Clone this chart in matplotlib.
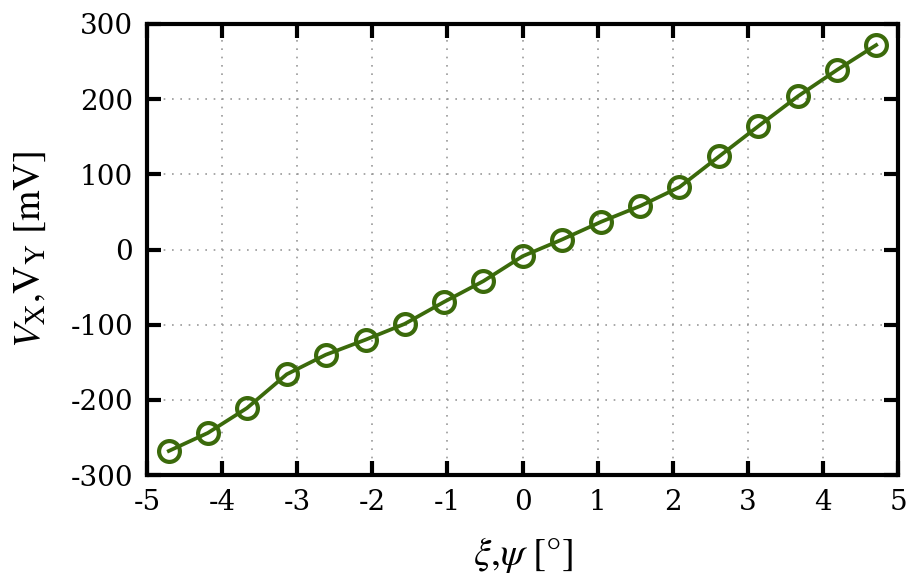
import matplotlib
matplotlib.use("Agg")
import matplotlib.pyplot as plt

# angle [deg] and measured voltage [mV]
angle = [-4.71, -4.19, -3.67, -3.14, -2.62, -2.09, -1.57, -1.05, -0.52, 0.0,
         0.52, 1.05, 1.57, 2.09, 2.62, 3.14, 3.67, 4.19, 4.71]
voltage = [-268, -244, -211, -166, -140, -120, -99, -70, -42, -9,
           13, 37, 58, 83, 124, 164, 204, 239, 272]

xticks = [-5, -4, -3, -2, -1, 0, 1, 2, 3, 4, 5]
yticks = [-300, -200, -100, 0, 100, 200, 300]

plt.rcParams['font.family'] = ['DejaVu Serif']
plt.rcParams['mathtext.fontset'] = 'stix'
plt.rcParams['axes.unicode_minus'] = False

fig = plt.figure(figsize=(9.11, 5.81), dpi=100)
ax = fig.add_axes([0.1614, 0.1824, 0.8243, 0.7763])

ax.plot(angle, voltage, "-o", color="#3b6a0b", linewidth=2.7, markersize=15,
        markerfacecolor="none", markeredgewidth=3)

ax.set_xlim(-5, 5)
ax.set_ylim(-300, 300)
ax.set_xticks(xticks)
ax.set_yticks(yticks)
ax.grid(True, linestyle=(0, (1, 4)), color="#999999", linewidth=1.2)

ax.tick_params(direction="in", length=10, width=3, top=True, right=True,
               labelsize=20, pad=10)
for s in ax.spines.values():
    s.set_linewidth(3)

ax.set_xlabel(r"$\xi$,$\psi$ [°]", fontsize=28, family="STIXGeneral", labelpad=14)
ax.set_ylabel(r"$V_{\mathrm{X}}$,V$_{\mathrm{Y}}$ [mV]", fontsize=28,
              family="STIXGeneral", labelpad=16)

fig.savefig("out.png", dpi=100)
